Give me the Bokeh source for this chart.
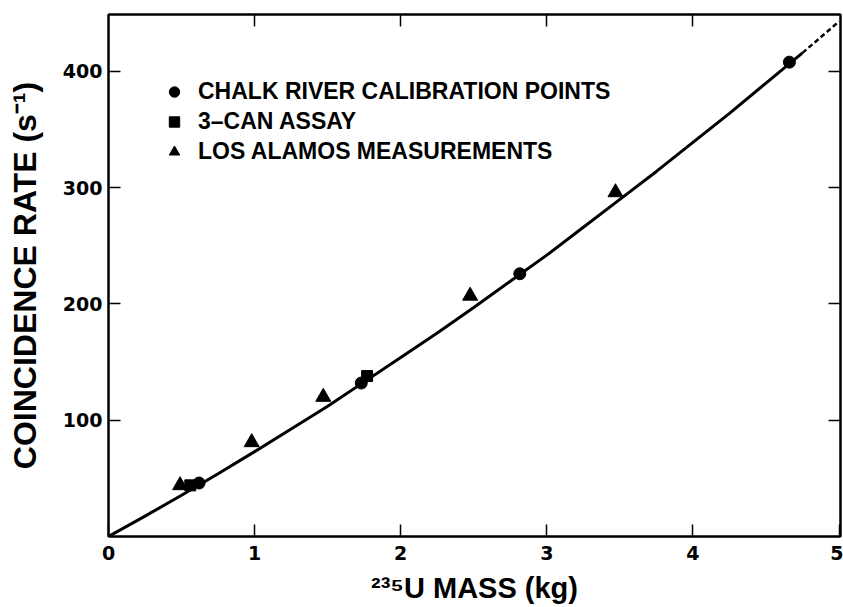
from bokeh.plotting import figure
from bokeh.models import (LinearAxis, Range1d, FixedTicker, Legend, LegendItem,
                          CustomJSTickFormatter)
from bokeh.embed import file_html
from bokeh.resources import INLINE

# ---- data ----
chalk_x = [0.62, 1.73, 2.815, 4.66]
chalk_y = [46, 132, 226, 408]

can_x = [0.56, 1.77]
can_y = [44, 138]

la_x = [0.49, 0.98, 1.47, 2.475, 3.47]
la_y = [44, 81, 120, 207, 296]

curve_x = [0, 0.25, 0.5, 0.75, 1, 1.25, 1.5, 1.75, 2, 2.25, 2.5, 2.75, 3,
           3.25, 3.5, 3.75, 4, 4.25, 4.5, 4.75]
curve_y = [0, 17.5, 35.5, 54, 73, 92.5, 112, 133, 154, 175, 197, 219.5, 242,
           266, 290, 314, 339, 364, 390, 416]
curve_end_x = [4.75, 5.0]
curve_end_y = [416, 443]

x_ticks = [0, 1, 2, 3, 4, 5]
x_top_ticks = [1, 2, 3, 4]
y_ticks = [100, 200, 300, 400]

x_label = "\u00b2\u00b3\u2075U MASS (kg)"
y_label = "COINCIDENCE RATE (s\u207b\u00b9)"
legend_labels = ["CHALK RIVER CALIBRATION POINTS", "3\u2013CAN ASSAY",
                 "LOS ALAMOS MEASUREMENTS"]

LABEL_FONT = "Liberation Sans"
TICK_FONT = "DejaVu Sans"

p = figure(width=843, height=607, x_range=Range1d(0, 5.01), y_range=Range1d(0, 449),
           output_backend="svg", toolbar_location=None,
           min_border_left=108, min_border_top=14, min_border_right=3,
           min_border_bottom=71)
p.background_fill_color = "white"
p.border_fill_color = "white"
p.xgrid.visible = False
p.ygrid.visible = False
p.outline_line_color = "black"
p.outline_line_width = 2

def style(ax, ticks, labels=True):
    ax.ticker = FixedTicker(ticks=ticks)
    ax.axis_line_color = "black"
    ax.axis_line_width = 2
    ax.major_tick_in = 12
    ax.major_tick_out = 0
    ax.major_tick_line_width = 1.5
    ax.minor_tick_line_color = None
    ax.major_label_text_font = TICK_FONT
    ax.major_label_text_font_style = "bold"
    ax.major_label_text_font_size = "19px"
    ax.major_label_text_color = "black"
    if not labels:
        ax.formatter = CustomJSTickFormatter(code="return ''")
        ax.major_label_standoff = 0

xb = p.xaxis[0]
style(xb, x_ticks)
xb.major_label_standoff = 9
xb.axis_label = x_label
xb.axis_label_text_font = LABEL_FONT
xb.axis_label_text_font_style = "bold"
xb.axis_label_text_font_size = "29px"
xb.axis_label_standoff = 9
xb.axis_label_text_color = "black"

yl = p.yaxis[0]
style(yl, y_ticks)
yl.major_label_standoff = 6
yl.axis_label = y_label
yl.axis_label_text_font = LABEL_FONT
yl.axis_label_text_font_style = "bold"
yl.axis_label_text_font_size = "32px"
yl.axis_label_standoff = 17
yl.axis_label_text_color = "black"

xt = LinearAxis()
style(xt, x_top_ticks, labels=False)
p.add_layout(xt, "above")
yr = LinearAxis()
style(yr, y_ticks, labels=False)
p.add_layout(yr, "right")

p.line(curve_x, curve_y, line_color="black", line_width=3)
p.line(curve_end_x, curve_end_y, line_color="black", line_width=2.5, line_dash="5 3")

r_chalk = p.scatter(chalk_x, chalk_y, marker="circle", size=12, fill_color="black",
                    line_color="black")
r_can = p.scatter(can_x, can_y, marker="square", size=11, fill_color="black",
                  line_color="black")
r_la = p.scatter(la_x, la_y, marker="triangle", size=15, fill_color="black",
                 line_color="black")

legend = Legend(items=[LegendItem(label=legend_labels[0], renderers=[r_chalk]),
                       LegendItem(label=legend_labels[1], renderers=[r_can]),
                       LegendItem(label=legend_labels[2], renderers=[r_la])],
                location=(53, 370))
legend.border_line_color = None
legend.background_fill_alpha = 0
legend.padding = 0
legend.margin = 0
legend.spacing = 1
legend.glyph_width = 26
legend.glyph_height = 29
legend.label_height = 29
legend.label_standoff = 11
legend.label_text_font = LABEL_FONT
legend.label_text_font_style = "bold"
legend.label_text_font_size = "23px"
legend.label_text_color = "black"
legend.label_text_baseline = "middle"
p.add_layout(legend)

open("out.html", "w").write(file_html(p, INLINE))
